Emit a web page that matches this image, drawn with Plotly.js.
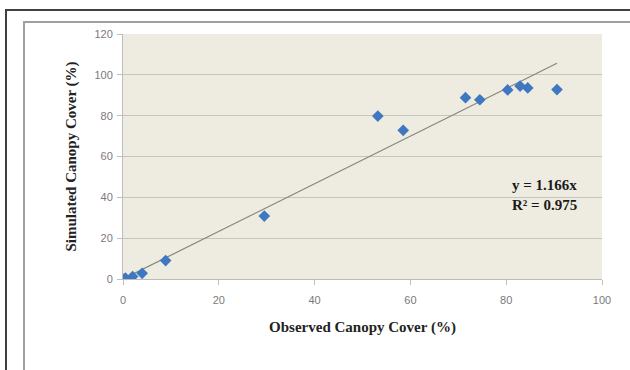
<!DOCTYPE html>
<html><head><meta charset="utf-8">
<script src="https://cdn.plot.ly/plotly-3.0.1.min.js"></script>
<style>
html,body{margin:0;padding:0;background:#fff;}
#wrap{position:relative;width:630px;height:370px;overflow:hidden;}
#chart{position:absolute;left:0;top:0;width:630px;height:370px;}
</style>
</head><body><div id="wrap"><div id="chart"></div></div>
<script>
const observed = [0, 0.5, 2.0, 4.0, 8.9, 29.5, 53.2, 58.5, 71.5, 74.5, 80.3, 82.9, 84.5, 90.6];
const simulated = [0, 0.5, 1.2, 2.8, 9.0, 30.8, 79.8, 72.8, 88.8, 87.8, 92.6, 94.5, 93.6, 92.8];
const slope = 1.166;
const r2 = 0.975;
const trendX = [0, Math.max(...observed)];
const trendY = trendX.map(v => v * slope);
const xTicks = [0, 20, 40, 60, 80, 100];
const yTicks = [0, 20, 40, 60, 80, 100, 120];

const W = 630, H = 370, L = 123, R = 28, T = 34, B = 91;
const pw = W - L - R, ph = H - T - B;
const px = v => (v - L) / pw;
const py = v => 1 - (v - T) / ph;

const traces = [
  {x: trendX, y: trendY, mode: 'lines', type: 'scatter',
   line: {color: '#86867a', width: 1.2}, hoverinfo: 'skip'},
  {x: observed, y: simulated, mode: 'markers', type: 'scatter',
   marker: {symbol: 'diamond', size: 9, color: '#3f78c0', line: {width: 0}}}
];

const frameLine = (x0, y0, x1, y1, color) => ({type: 'line', xref: 'paper', yref: 'paper', layer: 'above',
  x0: px(x0), y0: py(y0), x1: px(x1), y1: py(y1), line: {color: color, width: 2}});

const layout = {
  width: W, height: H,
  margin: {l: L, r: R, t: T, b: B},
  paper_bgcolor: '#ffffff', plot_bgcolor: '#eeece1',
  showlegend: false,
  xaxis: {range: [0, 100], tickvals: xTicks, ticktext: xTicks.map(String),
    showgrid: false, zeroline: false, showline: true, linecolor: '#bdbdbd', linewidth: 1,
    ticks: 'outside', ticklen: 5, tickcolor: '#bdbdbd', ticklabelstandoff: 6,
    tickfont: {family: 'Liberation Sans, Arial', size: 11, color: '#7a7a7a'},
    title: {text: '<b>Observed Canopy Cover (%)</b>', standoff: 16,
      font: {family: 'Liberation Serif, Times New Roman', size: 15, color: '#222'}}},
  yaxis: {range: [0, 120], tickvals: yTicks, ticktext: yTicks.map(String),
    showgrid: true, gridcolor: '#c6c6c0', gridwidth: 1, zeroline: false,
    showline: true, linecolor: '#bdbdbd', linewidth: 1,
    ticks: 'outside', ticklen: 5, tickcolor: '#bdbdbd', ticklabelstandoff: 2,
    tickfont: {family: 'Liberation Sans, Arial', size: 11, color: '#7a7a7a'},
    title: {text: '<b>Simulated Canopy Cover (%)</b>', standoff: 14,
      font: {family: 'Liberation Serif, Times New Roman', size: 15, color: '#222'}}},
  annotations: [{
    x: px(510), y: py(195), xref: 'paper', yref: 'paper', xanchor: 'left', yanchor: 'middle',
    text: '<b>y = ' + slope.toFixed(3) + 'x<br>R² = ' + r2.toFixed(3) + '</b>',
    showarrow: false, align: 'left',
    font: {family: 'Liberation Serif, Times New Roman', size: 15, color: '#1a1a1a'}
  }],
  shapes: [
    frameLine(6, 10, 6, 375, '#404040'),
    frameLine(5, 10, 635, 10, '#404040'),
    frameLine(24, 22, 24, 375, '#a0a0a0'),
    frameLine(23, 22, 635, 22, '#a0a0a0')
  ]
};
Plotly.newPlot('chart', traces, layout, {displayModeBar: false, staticPlot: true});
</script></body></html>
